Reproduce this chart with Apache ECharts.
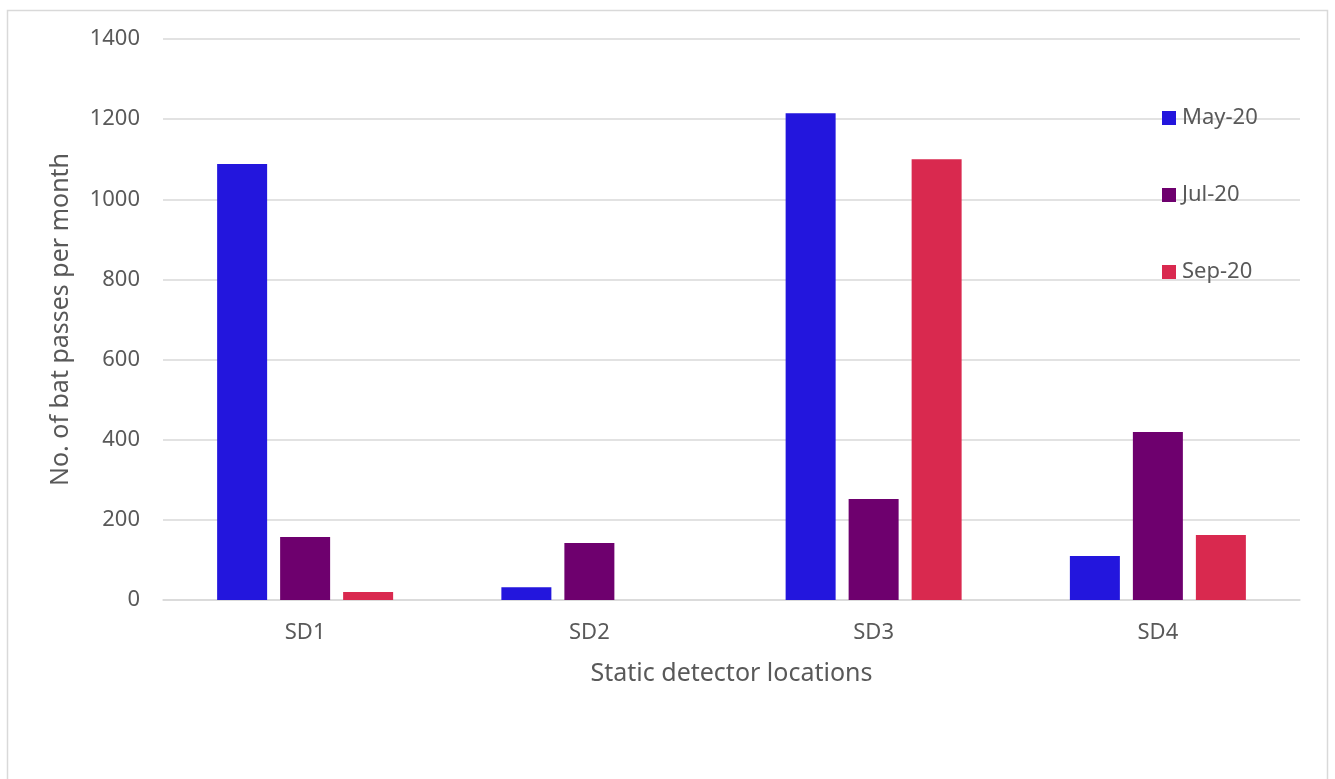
<!DOCTYPE html>
<html><head><meta charset="utf-8">
<script src="https://cdn.jsdelivr.net/npm/echarts@6/dist/echarts.min.js"></script>
<style>html,body{margin:0;padding:0;background:#fff}#c{width:1335px;height:779px}</style>
</head><body><div id="c"></div>
<script>
const categories = ['SD1','SD2','SD3','SD4'];
const seriesNames = ['May-20','Jul-20','Sep-20'];
const may20 = [1088, 32, 1215, 110];
const jul20 = [157, 142, 252, 419];
const sep20 = [20, 0, 1100, 162];
const colors = ['#2316DD','#6E006E','#D9294F'];
const font = 'Noto Sans';
const chart = echarts.init(document.getElementById('c'));
const mk = (name, data, color) => ({
  name, type:'bar', data, barWidth:50, barGap:'26%', barCategoryGap:'38%',
  itemStyle:{color}
});
chart.setOption({
  animation:false,
  textStyle:{fontFamily:font},
  graphic:[{type:'rect',shape:{x:7.5,y:10.5,width:1320,height:800},style:{fill:'none',stroke:'#D9D9D9',lineWidth:1.5},silent:true}],
  grid:{left:163,right:35,top:39,bottom:179,containLabel:false},
  legend:{
    orient:'vertical', left:1157, top:102, itemWidth:14, itemHeight:14, itemGap:55,
    icon:'rect', data:seriesNames,
    textStyle:{fontSize:22,lineHeight:18,color:'#595959',fontFamily:font,padding:[0,0,0,1]}
  },
  xAxis:{
    type:'category', data:categories,
    name:'Static detector locations', nameLocation:'middle', nameGap:61,
    nameTextStyle:{fontSize:25,color:'#595959',fontFamily:font},
    axisLine:{lineStyle:{color:'#D9D9D9',width:1.5}}, axisTick:{show:false},
    axisLabel:{fontSize:22,color:'#595959',margin:22,fontFamily:font}
  },
  yAxis:{
    type:'value', min:0, max:1400, interval:200,
    name:'No. of bat passes per month', nameLocation:'middle', nameGap:90,
    nameTextStyle:{fontSize:25,color:'#595959',fontFamily:font},
    axisLine:{show:false}, axisTick:{show:false},
    axisLabel:{fontSize:22,color:'#595959',margin:23,fontFamily:font,formatter:v=>String(v)},
    splitLine:{lineStyle:{color:'#D9D9D9',width:1.5}}
  },
  series:[mk(seriesNames[0],may20,colors[0]),mk(seriesNames[1],jul20,colors[1]),mk(seriesNames[2],sep20,colors[2])]
});
</script></body></html>
